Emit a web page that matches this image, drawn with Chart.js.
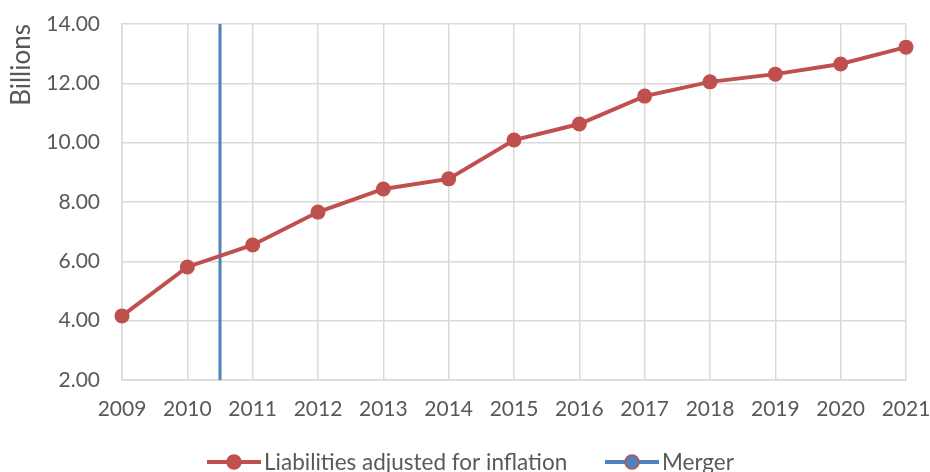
<!DOCTYPE html>
<html>
<head>
<meta charset="utf-8">
<script src="https://cdn.jsdelivr.net/npm/chart.js@4"></script>
<style>
	html, body { margin: 0; padding: 0; background: #fff; }
	#wrap { width: 930px; height: 472px; }
</style>
</head>
<body>
<div id="wrap"><canvas id="chart_liab" width="930" height="472"></canvas></div>
<script>
// Data
const years = [2009, 2010, 2011, 2012, 2013, 2014, 2015, 2016, 2017, 2018, 2019, 2020, 2021];
const liabilities = [4.16, 5.81, 6.55, 7.66, 8.44, 8.78, 10.09, 10.63, 11.57, 12.05, 12.31, 12.65, 13.22];
const mergerYear = [2010.5, 2010.5];
const mergerValue = [2, 14];
const yTicks = [2, 4, 6, 8, 10, 12, 14];

const FONT = "Lato, 'Open Sans', sans-serif";
const TXT = '#595959';
const RED = '#c0504d';
const BLUE = '#4f81bd';

//Legend drawn by hand: line + marker, like the original
const lineLegend = {
	id: 'lineLegend',
	afterDraw(chart) {
		const ctx = chart.ctx;
		const y = 462;
		const items = [
			{ x: 207, ds: chart.data.datasets[0] },
			{ x: 605, ds: chart.data.datasets[1] }
		];
		ctx.save();
		ctx.font = '22.5px ' + FONT;
		ctx.textBaseline = 'middle';
		items.forEach(function(it) {
			ctx.strokeStyle = it.ds.borderColor;
			ctx.lineWidth = 4;
			ctx.beginPath();
			ctx.moveTo(it.x, y);
			ctx.lineTo(it.x + 54, y);
			ctx.stroke();
			ctx.beginPath();
			ctx.arc(it.x + 27, y, 7, 0, Math.PI * 2);
			ctx.fillStyle = it.ds.legendFill;
			ctx.fill();
			ctx.lineWidth = 1.5;
			ctx.strokeStyle = RED;
			ctx.stroke();
			ctx.fillStyle = TXT;
			ctx.fillText(it.ds.label, it.x + 57, y + 1);
		});
		ctx.restore();
	}
};

const chart_liab = new Chart(document.getElementById('chart_liab'), {
	type: 'line',
	data: {
		datasets: [{
			label: 'Liabilities adjusted for inflation',
			data: years.map((yr, i) => ({ x: yr, y: liabilities[i] })),
			borderColor: RED,
			backgroundColor: RED,
			legendFill: RED,
			borderWidth: 4,
			pointRadius: 7.5,
			pointHoverRadius: 7.5,
			pointBorderWidth: 0,
			tension: 0,
			clip: false
		}, {
			label: 'Merger',
			data: mergerYear.map((yr, i) => ({ x: yr, y: mergerValue[i] })),
			borderColor: BLUE,
			backgroundColor: BLUE,
			legendFill: BLUE,
			borderWidth: 3,
			pointRadius: 0,
			clip: false
		}]
	},
	options: {
		responsive: false,
		animation: false,
		events: [],
		layout: { padding: { top: 24, right: 24, left: 0, bottom: 0 } },
		plugins: {
			legend: { display: false },
			tooltip: { enabled: false }
		},
		scales: {
			x: {
				type: 'linear',
				min: years[0],
				max: years[years.length - 1],
				afterBuildTicks: function(axis) {
					axis.ticks = years.map(v => ({ value: v }));
				},
				afterFit: function(axis) {
					axis.height = 92;
					axis.paddingLeft = 0;
					axis.paddingRight = 0;
				},
				ticks: {
					color: TXT,
					font: { family: FONT, size: 21 },
					padding: 17,
					maxRotation: 0,
					callback: v => String(v)
				},
				grid: { color: '#d9d9d9', lineWidth: 1.5, drawTicks: false },
				border: { color: '#d9d9d9', width: 1.5 }
			},
			y: {
				min: 2,
				max: 14,
				afterBuildTicks: function(axis) {
					axis.ticks = yTicks.map(v => ({ value: v }));
				},
				afterFit: function(axis) {
					axis.width = 122;
					axis.paddingTop = 0;
					axis.paddingBottom = 0;
				},
				ticks: {
					color: TXT,
					font: { family: FONT, size: 21 },
					padding: 22,
					callback: v => v.toFixed(2)
				},
				title: {
					display: true,
					text: 'Billions',
					align: 'end',
					color: TXT,
					font: { family: FONT, size: 26 },
					padding: { top: 6, bottom: 0 }
				},
				grid: { color: '#d9d9d9', lineWidth: 1.5, drawTicks: false },
				border: { color: '#d9d9d9', width: 1.5 }
			}
		}
	},
	plugins: [lineLegend]
});
</script>
</body>
</html>
